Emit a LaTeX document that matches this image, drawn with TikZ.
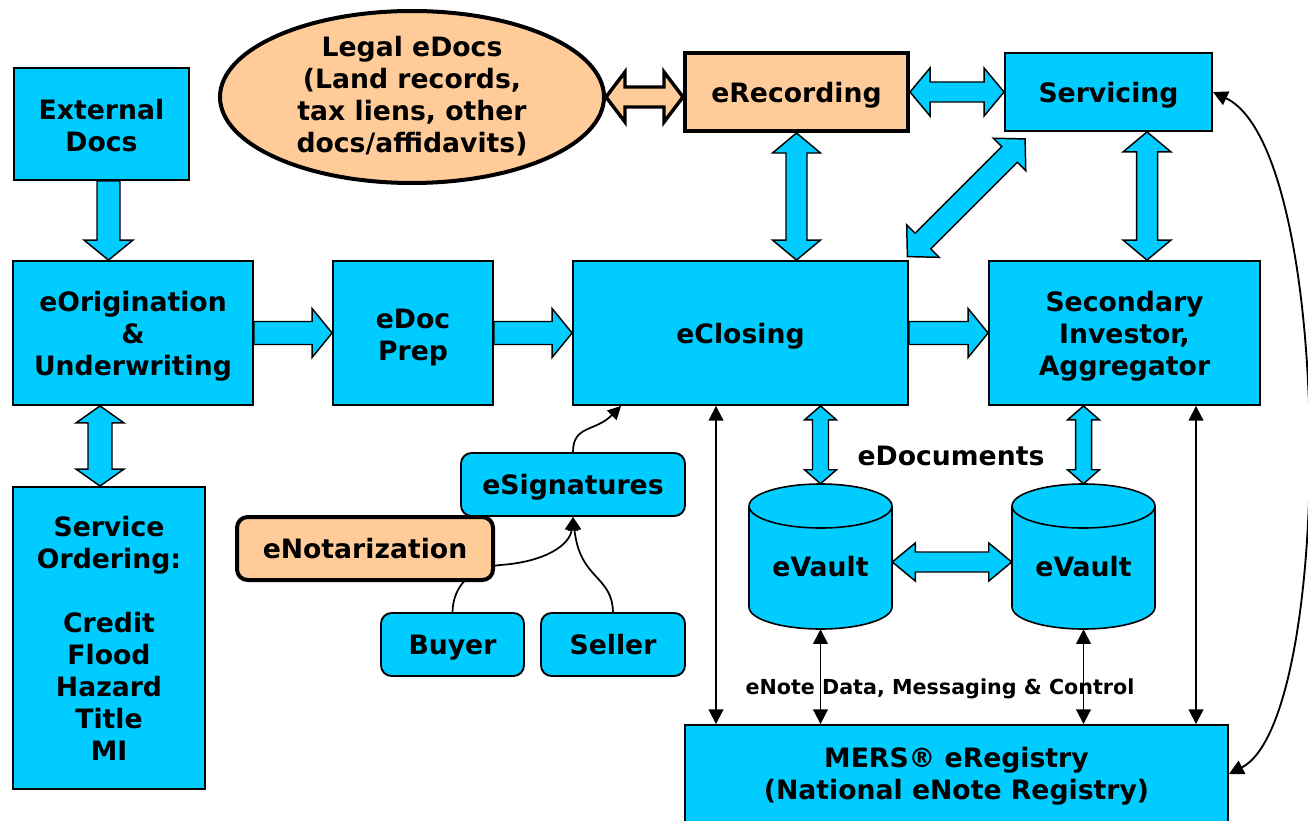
\documentclass[tikz,border=0pt]{standalone}
\usepackage{fontspec}
\setmainfont{DejaVu Sans}
\usetikzlibrary{shapes.geometric,calc,arrows.meta}
\definecolor{boxblue}{RGB}{0,204,255}
\definecolor{peach}{RGB}{255,204,153}
\def\pxu{0.75pt}
% invisible strut that lowers a multi-line label by raising its first line
\newcommand\firstline[1]{\rule{0pt}{#1}}

% Two-headed block arrow: style, from, to, shaft half-width, head half-width, head length
\newcommand\twoway[6]{%
  \draw[#1] let \p1=(#2), \p2=(#3), \n1={atan2(\y2-\y1,\x2-\x1)}, \n2={veclen(\x2-\x1,\y2-\y1)} in
    [shift={(\p1)}, rotate=\n1]
    (0pt,0pt) -- ({#6*\pxu},{#5*\pxu}) -- ({#6*\pxu},{#4*\pxu}) -- ({\n2*1pt-#6*\pxu},{#4*\pxu})
    -- ({\n2*1pt-#6*\pxu},{#5*\pxu}) -- ({\n2*1pt},0pt) -- ({\n2*1pt-#6*\pxu},{-#5*\pxu})
    -- ({\n2*1pt-#6*\pxu},{-#4*\pxu}) -- ({#6*\pxu},{-#4*\pxu}) -- ({#6*\pxu},{-#5*\pxu}) -- cycle;}
% One-headed block arrow, same arguments
\newcommand\oneway[6]{%
  \draw[#1] let \p1=(#2), \p2=(#3), \n1={atan2(\y2-\y1,\x2-\x1)}, \n2={veclen(\x2-\x1,\y2-\y1)} in
    [shift={(\p1)}, rotate=\n1]
    (0pt,{#4*\pxu}) -- ({\n2*1pt-#6*\pxu},{#4*\pxu}) -- ({\n2*1pt-#6*\pxu},{#5*\pxu})
    -- ({\n2*1pt},0pt) -- ({\n2*1pt-#6*\pxu},{-#5*\pxu}) -- ({\n2*1pt-#6*\pxu},{-#4*\pxu})
    -- (0pt,{-#4*\pxu}) -- cycle;}
% Storage cylinder centred at x=#1 between top ellipse y=#2 and bottom ellipse y=#3
\newcommand\vaultdrum[3]{%
  \filldraw[drum] (#1,#3) ellipse [x radius=53.6pt, y radius=16.5pt];
  \fill[boxblue] ({#1-71.5},#2) rectangle ({#1+71.5},#3);
  \draw[drum] ({#1-71.5},#2) -- ({#1-71.5},#3) ({#1+71.5},#2) -- ({#1+71.5},#3);
  \filldraw[drum] (#1,#2) ellipse [x radius=53.6pt, y radius=16.5pt];}

\begin{document}
\begin{tikzpicture}[x=0.75pt,y=-0.75pt,
  lbl/.style={font=\fontsize{20}{24}\selectfont\bfseries, align=center},
  box/.style 2 args={draw=black, line width=1.4pt, fill=boxblue, inner sep=0pt,
    minimum width=#1*\pxu, minimum height=#2*\pxu, lbl},
  peachbox/.style 2 args={box={#1}{#2}, fill=peach, line width=3pt},
  rbox/.style 2 args={box={#1}{#2}, rounded corners=8pt},
  flat/.style={text depth=0pt},
  drum/.style={draw=black, fill=boxblue, line width=1.2pt},
  blueblock/.style={draw=black, line width=1.1pt, fill=boxblue, line join=miter},
  peachblock/.style={draw=black, line width=2.6pt, fill=peach, line join=miter},
  link/.style={line width=1.4pt, {Triangle[length=11pt,width=11pt]}-{Triangle[length=11pt,width=11pt]}},
  onelink/.style={line width=1.3pt, -{Triangle[length=10pt,width=10pt]}},
]
\useasboundingbox (0,0) rectangle (1308,820);
\clip (0,0) rectangle (1308,820);

% main flow
\node[box={175}{112}] (extdocs) at (101.5,124) {\firstline{18.2pt}External\\Docs};
\node[box={240}{144}] (eorig) at (133,333) {\firstline{19.7pt}eOrigination\\\&\\Underwriting};
\node[box={160}{144}] (docprep) at (413,333) {\firstline{21pt}eDoc\\Prep};
\node[box={335}{144}, flat] (eclosing) at (740.5,333) {eClosing};
\node[box={271}{144}] (secondary) at (1124.5,333) {\firstline{19.7pt}Secondary\\Investor,\\Aggregator};
\node[box={192}{302}] (svcorder) at (109,638) {Service\\Ordering:\\[24pt]Credit\\Flood\\Hazard\\Title\\MI};

% top row
\node[ellipse, draw=black, line width=3pt, fill=peach, inner sep=0pt,
  minimum width=384*\pxu, minimum height=172*\pxu] (legal) at (412,97) {};
\node[lbl] (legaltext) at (412,96) {Legal eDocs\\(Land records,\\tax liens, other\\docs/affidavits)};
\node[peachbox={223}{78}, flat] (erec) at (796.5,92) {eRecording};
\node[box={207}{78}, flat] (servicing) at (1108.5,92) {Servicing};

% signing parties
\node[rbox={224}{63}, flat] (esig) at (573,484.5) {eSignatures};
\node[rbox={143}{63}, flat] (buyer) at (452.5,644.5) {Buyer};
\node[rbox={144}{63}] (seller) at (613,644.5) {Seller};

% registry
\node[box={543}{98}] (mers) at (956.5,774) {\firstline{18.2pt}MERS® eRegistry\\(National eNote Registry)};

% vaults
\vaultdrum{820.5}{506}{607}
\vaultdrum{1083.5}{506}{607}
\node[inner sep=0pt, minimum width=143*\pxu, minimum height=145*\pxu] (vault1) at (820.5,556.5) {};
\node[inner sep=0pt, minimum width=143*\pxu, minimum height=145*\pxu] (vault2) at (1083.5,556.5) {};
\node[lbl] (vault1txt) at (820.5,567) {eVault};
\node[lbl] (vault2txt) at (1083.5,567) {eVault};

\node[lbl] (edocs) at (951,456) {eDocuments};
\node[font=\fontsize{15.5}{18}\selectfont\bfseries] (enote) at (940,689) {eNote Data, Messaging \& Control};

% block arrows
\oneway{blueblock}{$(extdocs.south)+(7,0)$}{$(extdocs.south |- eorig.north)+(7,0)$}{11.5}{24.5}{20}
\twoway{blueblock}{eorig.south -| 100,0}{svcorder.north -| 100,0}{12}{24}{17}
\oneway{blueblock}{eorig.east}{docprep.west}{11.5}{24.5}{20}
\oneway{blueblock}{docprep.east}{eclosing.west}{11.5}{24.5}{20}
\oneway{blueblock}{eclosing.east}{secondary.west}{11.5}{24.5}{20}
\twoway{peachblock}{legal.east}{erec.west |- legal.east}{10}{25}{19}
\twoway{blueblock}{erec.east}{servicing.west}{10}{24}{20}
\twoway{blueblock}{erec.south}{erec.south |- eclosing.north}{10.5}{24}{20}
\twoway{blueblock}{servicing.south -| 1147,0}{secondary.north -| 1147,0}{10.5}{24}{20}
\twoway{blueblock}{$(servicing.south west)+(21,7)$}{$(eclosing.north east)+(-2,-3)$}{11}{23}{22}
\twoway{blueblock}{eclosing.south -| vault1.north}{vault1.north}{8}{16}{14}
\twoway{blueblock}{secondary.south -| vault2.north}{vault2.north}{8}{16}{14}
\twoway{blueblock}{$(vault1.east)+(0,5.5)$}{$(vault2.west)+(0,5.5)$}{10}{19}{23}

% registry links
\draw[link] (eclosing.south -| 716,0) -- (mers.north -| 716,0);
\draw[link] (vault1.south) -- (vault1.south |- mers.north);
\draw[link] (vault2.south) -- (vault2.south |- mers.north);
\draw[link] (secondary.south -| 1196,0) -- (mers.north -| 1196,0);
\draw[link] (servicing.east) .. controls (1335,150) and (1335,720) .. (mers.east);

% signature links
\draw[onelink] (esig.north) .. controls (573,425) and (595,432) .. ($(eclosing.south west)+(49,0)$);
\draw[onelink] (buyer.north) .. controls (453,585) and (472,568) .. (500,565)
  .. controls (545,562) and (570,545) .. (esig.south);
\draw[onelink] (seller.north) .. controls (612,575) and (580,580) .. (esig.south);

% notary drawn last so it sits over the buyer link
\node[peachbox={256}{63}, rounded corners=8pt] (enot) at (365,548.5) {eNotarization};
\end{tikzpicture}
\end{document}
